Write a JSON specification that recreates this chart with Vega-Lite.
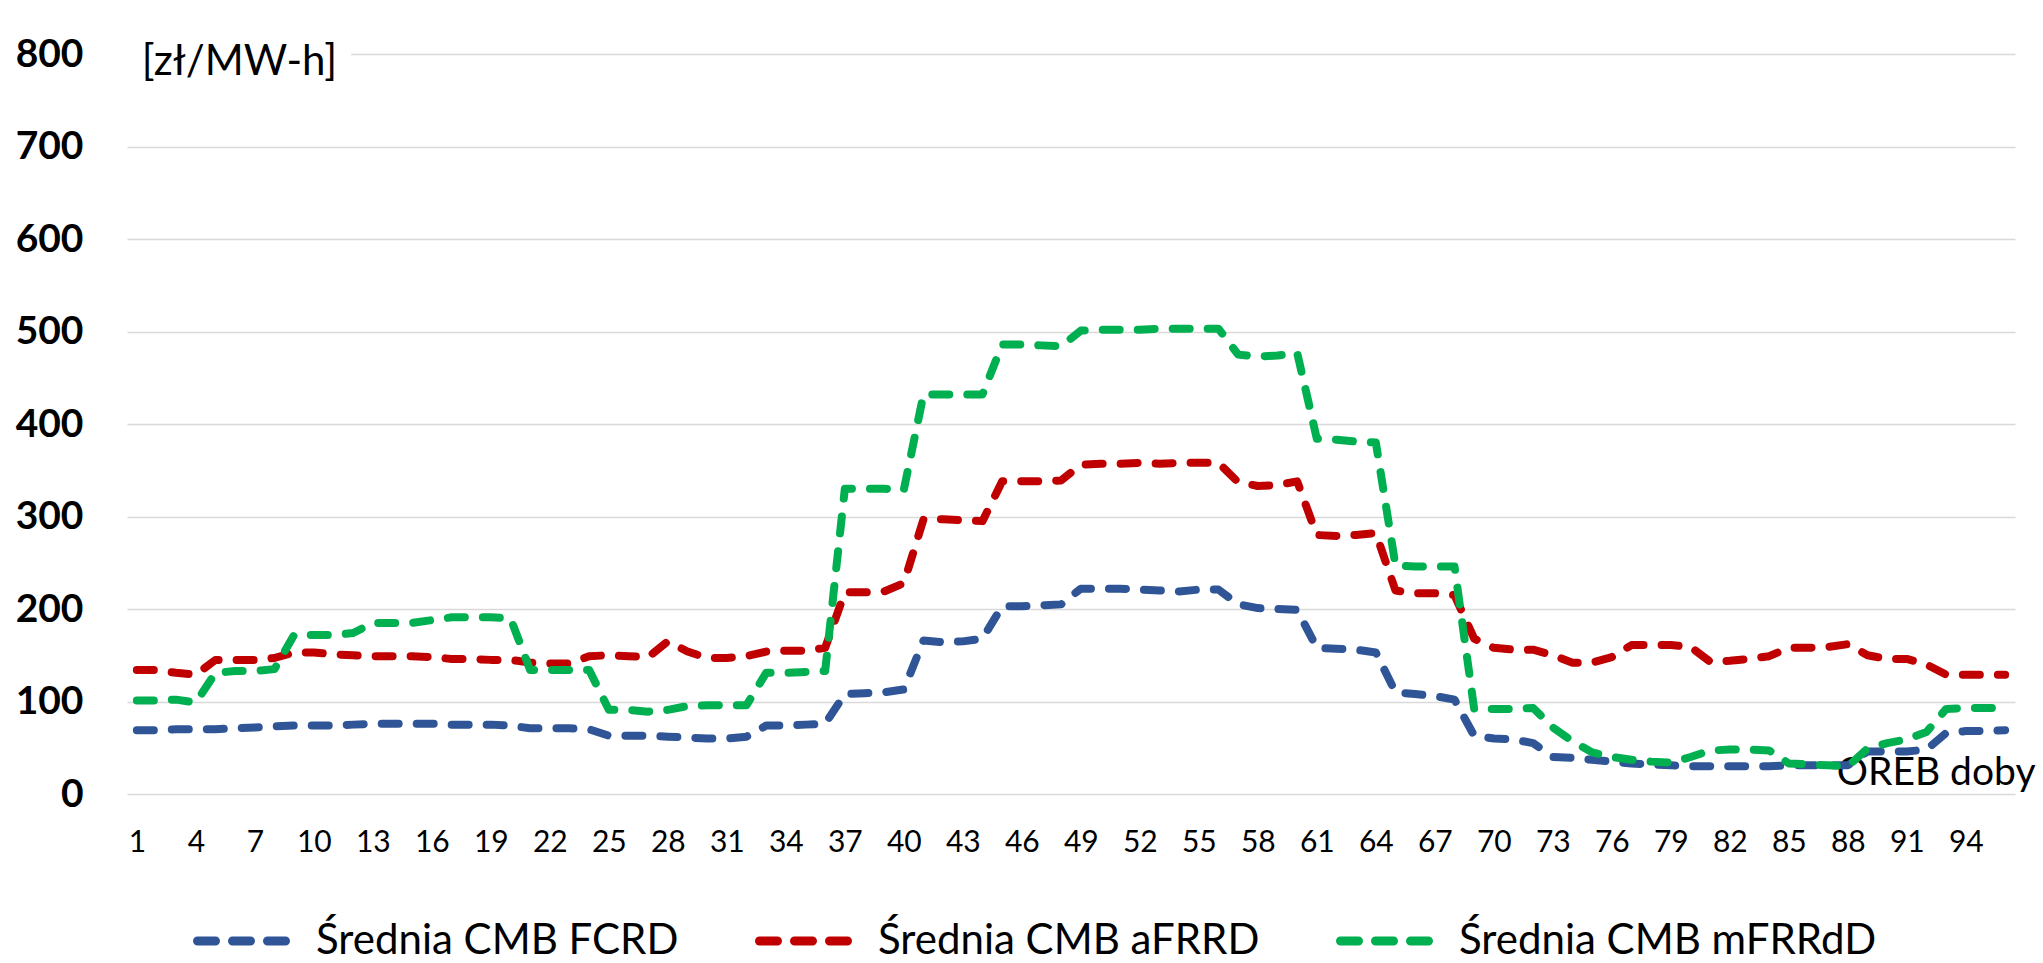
{
  "$schema": "https://vega.github.io/schema/vega-lite/v6.json",
  "width": 1888,
  "height": 740,
  "autosize": "none",
  "padding": {"left": 127, "top": 54, "right": 28, "bottom": 169},
  "background": "white",
  "config": {"font": "Lato", "view": {"stroke": null}},
  "datasets": {
    "prices": [
      {"q":1,"FCRD":69,"aFRRD":134,"mFRRdD":101},{"q":2,"FCRD":69,"aFRRD":134,"mFRRdD":101},{"q":3,"FCRD":70,"aFRRD":131,"mFRRdD":102},{"q":4,"FCRD":70,"aFRRD":129,"mFRRdD":99},
      {"q":5,"FCRD":70,"aFRRD":145,"mFRRdD":131},{"q":6,"FCRD":71,"aFRRD":145,"mFRRdD":133},{"q":7,"FCRD":72,"aFRRD":145,"mFRRdD":133},{"q":8,"FCRD":73,"aFRRD":147,"mFRRdD":135},
      {"q":9,"FCRD":74,"aFRRD":153,"mFRRdD":172},{"q":10,"FCRD":74,"aFRRD":153,"mFRRdD":172},{"q":11,"FCRD":74,"aFRRD":151,"mFRRdD":172},{"q":12,"FCRD":75,"aFRRD":150,"mFRRdD":174},
      {"q":13,"FCRD":76,"aFRRD":149,"mFRRdD":185},{"q":14,"FCRD":76,"aFRRD":149,"mFRRdD":185},{"q":15,"FCRD":76,"aFRRD":149,"mFRRdD":185},{"q":16,"FCRD":76,"aFRRD":148,"mFRRdD":188},
      {"q":17,"FCRD":75,"aFRRD":146,"mFRRdD":191},{"q":18,"FCRD":75,"aFRRD":146,"mFRRdD":191},{"q":19,"FCRD":75,"aFRRD":145,"mFRRdD":191},{"q":20,"FCRD":74,"aFRRD":145,"mFRRdD":190},
      {"q":21,"FCRD":71,"aFRRD":142,"mFRRdD":134},{"q":22,"FCRD":71,"aFRRD":141,"mFRRdD":134},{"q":23,"FCRD":71,"aFRRD":141,"mFRRdD":134},{"q":24,"FCRD":70,"aFRRD":149,"mFRRdD":134},
      {"q":25,"FCRD":63,"aFRRD":150,"mFRRdD":91},{"q":26,"FCRD":63,"aFRRD":149,"mFRRdD":91},{"q":27,"FCRD":63,"aFRRD":148,"mFRRdD":89},{"q":28,"FCRD":62,"aFRRD":165,"mFRRdD":91},
      {"q":29,"FCRD":61,"aFRRD":154,"mFRRdD":95},{"q":30,"FCRD":60,"aFRRD":147,"mFRRdD":96},{"q":31,"FCRD":60,"aFRRD":147,"mFRRdD":96},{"q":32,"FCRD":62,"aFRRD":149,"mFRRdD":96},
      {"q":33,"FCRD":74,"aFRRD":154,"mFRRdD":131},{"q":34,"FCRD":74,"aFRRD":155,"mFRRdD":131},{"q":35,"FCRD":75,"aFRRD":155,"mFRRdD":132},{"q":36,"FCRD":76,"aFRRD":158,"mFRRdD":133},
      {"q":37,"FCRD":108,"aFRRD":218,"mFRRdD":330},{"q":38,"FCRD":109,"aFRRD":218,"mFRRdD":330},{"q":39,"FCRD":110,"aFRRD":219,"mFRRdD":330},{"q":40,"FCRD":113,"aFRRD":228,"mFRRdD":329},
      {"q":41,"FCRD":166,"aFRRD":297,"mFRRdD":432},{"q":42,"FCRD":164,"aFRRD":297,"mFRRdD":432},{"q":43,"FCRD":165,"aFRRD":296,"mFRRdD":432},{"q":44,"FCRD":168,"aFRRD":295,"mFRRdD":432},
      {"q":45,"FCRD":203,"aFRRD":338,"mFRRdD":486},{"q":46,"FCRD":203,"aFRRD":338,"mFRRdD":486},{"q":47,"FCRD":204,"aFRRD":338,"mFRRdD":485},{"q":48,"FCRD":205,"aFRRD":339,"mFRRdD":484},
      {"q":49,"FCRD":222,"aFRRD":356,"mFRRdD":501},{"q":50,"FCRD":222,"aFRRD":357,"mFRRdD":502},{"q":51,"FCRD":222,"aFRRD":357,"mFRRdD":502},{"q":52,"FCRD":221,"aFRRD":358,"mFRRdD":502},
      {"q":53,"FCRD":220,"aFRRD":357,"mFRRdD":503},{"q":54,"FCRD":219,"aFRRD":358,"mFRRdD":503},{"q":55,"FCRD":221,"aFRRD":358,"mFRRdD":503},{"q":56,"FCRD":221,"aFRRD":358,"mFRRdD":503},
      {"q":57,"FCRD":205,"aFRRD":337,"mFRRdD":475},{"q":58,"FCRD":201,"aFRRD":333,"mFRRdD":473},{"q":59,"FCRD":200,"aFRRD":334,"mFRRdD":474},{"q":60,"FCRD":199,"aFRRD":338,"mFRRdD":477},
      {"q":61,"FCRD":158,"aFRRD":280,"mFRRdD":384},{"q":62,"FCRD":157,"aFRRD":279,"mFRRdD":383},{"q":63,"FCRD":156,"aFRRD":280,"mFRRdD":381},{"q":64,"FCRD":153,"aFRRD":282,"mFRRdD":380},
      {"q":65,"FCRD":110,"aFRRD":220,"mFRRdD":247},{"q":66,"FCRD":108,"aFRRD":217,"mFRRdD":246},{"q":67,"FCRD":106,"aFRRD":217,"mFRRdD":246},{"q":68,"FCRD":102,"aFRRD":215,"mFRRdD":246},
      {"q":69,"FCRD":63,"aFRRD":168,"mFRRdD":92},{"q":70,"FCRD":60,"aFRRD":158,"mFRRdD":92},{"q":71,"FCRD":59,"aFRRD":156,"mFRRdD":92},{"q":72,"FCRD":55,"aFRRD":156,"mFRRdD":93},
      {"q":73,"FCRD":40,"aFRRD":150,"mFRRdD":72},{"q":74,"FCRD":39,"aFRRD":142,"mFRRdD":57},{"q":75,"FCRD":37,"aFRRD":142,"mFRRdD":45},{"q":76,"FCRD":35,"aFRRD":148,"mFRRdD":40},
      {"q":77,"FCRD":33,"aFRRD":161,"mFRRdD":37},{"q":78,"FCRD":32,"aFRRD":161,"mFRRdD":35},{"q":79,"FCRD":31,"aFRRD":161,"mFRRdD":34},{"q":80,"FCRD":30,"aFRRD":159,"mFRRdD":40},
      {"q":81,"FCRD":30,"aFRRD":143,"mFRRdD":47},{"q":82,"FCRD":30,"aFRRD":144,"mFRRdD":48},{"q":83,"FCRD":30,"aFRRD":146,"mFRRdD":48},{"q":84,"FCRD":30,"aFRRD":149,"mFRRdD":47},
      {"q":85,"FCRD":31,"aFRRD":158,"mFRRdD":33},{"q":86,"FCRD":31,"aFRRD":158,"mFRRdD":32},{"q":87,"FCRD":31,"aFRRD":159,"mFRRdD":31},{"q":88,"FCRD":31,"aFRRD":162,"mFRRdD":30},
      {"q":89,"FCRD":46,"aFRRD":150,"mFRRdD":49},{"q":90,"FCRD":46,"aFRRD":146,"mFRRdD":55},{"q":91,"FCRD":46,"aFRRD":146,"mFRRdD":59},{"q":92,"FCRD":48,"aFRRD":140,"mFRRdD":67},
      {"q":93,"FCRD":66,"aFRRD":129,"mFRRdD":92},{"q":94,"FCRD":68,"aFRRD":129,"mFRRdD":93},{"q":95,"FCRD":68,"aFRRD":129,"mFRRdD":93},{"q":96,"FCRD":69,"aFRRD":129,"mFRRdD":93}
    ]
  },
  "layer": [
    {
      "data": {"values": [{}]},
      "mark": {"type": "rect", "fill": "white"},
      "encoding": {
        "x": {"datum": 0.5, "type": "quantitative"},
        "x2": {"datum": 11.9},
        "y": {"datum": 785, "type": "quantitative"},
        "y2": {"datum": 815}
      }
    },
    {
      "data": {"values": [{"label": "[zł/MW-h]"}]},
      "mark": {"type": "text", "align": "left", "baseline": "middle", "fontSize": 42, "dx": 5, "dy": 8, "color": "black"},
      "encoding": {
        "x": {"datum": 1, "type": "quantitative"},
        "y": {"datum": 800, "type": "quantitative"},
        "text": {"field": "label"}
      }
    },
    {
      "data": {"name": "prices"},
      "transform": [{"fold": ["FCRD", "aFRRD", "mFRRdD"], "as": ["series", "value"]}],
      "mark": {"type": "line", "strokeWidth": 8, "strokeDash": [17, 18], "strokeCap": "round", "strokeJoin": "round"},
      "encoding": {
        "x": {
          "field": "q", "type": "quantitative",
          "scale": {"domain": [0.5, 96.5], "nice": false, "zero": false},
          "axis": {
            "values": [1,4,7,10,13,16,19,22,25,28,31,34,37,40,43,46,49,52,55,58,61,64,67,70,73,76,79,82,85,88,91,94],
            "grid": false, "ticks": false, "domain": false,
            "labelFontSize": 30, "labelColor": "black", "labelPadding": 33,
            "title": "OREB doby", "titleFontSize": 39, "titleFontWeight": "normal", "titleColor": "black",
            "titleX": 1908, "titleY": -22, "titleAlign": "right", "titleBaseline": "middle", "titleAnchor": null
          }
        },
        "y": {
          "field": "value", "type": "quantitative",
          "scale": {"domain": [0, 800], "nice": false},
          "axis": {
            "values": [0,100,200,300,400,500,600,700,800],
            "grid": true, "gridColor": "#D9D9D9", "gridWidth": 1.5,
            "ticks": false, "domain": false,
            "labelFontSize": 39, "labelFontWeight": "bold", "labelColor": "black", "labelPadding": 44,
            "title": null
          }
        },
        "color": {
          "field": "series", "type": "nominal",
          "scale": {"domain": ["FCRD", "aFRRD", "mFRRdD"], "range": ["#2F5597", "#C00000", "#00B050"]},
          "legend": {
            "orient": "none", "direction": "horizontal", "legendX": 66, "legendY": 834,
            "title": null, "symbolType": "stroke", "symbolSize": 9409, "symbolStrokeWidth": 9,
            "symbolDash": [18, 17], "labelFontSize": 42, "labelColor": "black", "labelOffset": 17,
            "columnPadding": 62, "labelLimit": 0,
            "labelExpr": "'Średnia CMB ' + datum.label",
            "encode": {"symbols": {"update": {"strokeCap": {"value": "round"}}}}
          }
        }
      }
    }
  ]
}
